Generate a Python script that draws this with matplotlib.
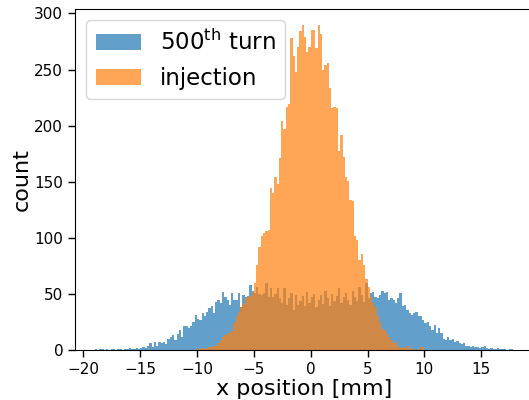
import numpy as np
import matplotlib
matplotlib.use("Agg")
import matplotlib.pyplot as plt

# ---- data (bin counts) ----
bin_width = 0.2

# 500th turn: bins from -19.0 to 18.0 mm
blue_start = -19.0
blue_counts = [
    1, 0, 1, 1, 0, 1, 0, 1, 1, 0,
    1, 1, 0, 1, 1, 2, 1, 1, 2, 1,
    2, 3, 2, 4, 6, 3, 7, 4, 7, 6,
    7, 5, 10, 12, 13, 9, 14, 18, 12, 21,
    21, 20, 21, 25, 31, 28, 27, 33, 30, 34,
    37, 39, 33, 43, 45, 42, 52, 47, 45, 40,
    51, 45, 45, 51, 38, 49, 47, 48, 58, 53,
    51, 56, 50, 49, 51, 60, 47, 55, 47, 50,
    55, 46, 42, 55, 40, 46, 51, 36, 49, 40,
    44, 48, 39, 52, 42, 47, 50, 38, 45, 49,
    41, 53, 46, 39, 50, 44, 48, 55, 42, 47,
    51, 45, 40, 53, 47, 44, 56, 49, 43, 60,
    46, 51, 52, 47, 46, 49, 53, 51, 52, 45,
    46, 45, 42, 46, 51, 39, 40, 36, 33, 31,
    33, 34, 30, 30, 27, 24, 25, 21, 18, 22,
    15, 20, 15, 10, 9, 12, 9, 10, 7, 8,
    6, 5, 6, 4, 4, 3, 4, 3, 3, 2,
    3, 4, 2, 1, 2, 1, 1, 2, 1, 1,
    1, 0, 1, 1, 0,
]

# injection: bins from -10.0 to 10.0 mm
orange_start = -10.0
orange_counts = [
    2, 1, 2, 1, 2, 3, 3, 4, 4, 6,
    9, 12, 13, 15, 15, 17, 24, 30, 34, 38,
    41, 46, 47, 48, 52, 60, 76, 92, 102, 104,
    106, 107, 144, 140, 154, 148, 171, 204, 197, 217,
    219, 278, 262, 248, 270, 284, 290, 279, 266, 270,
    285, 285, 269, 290, 282, 250, 254, 256, 234, 216,
    217, 216, 177, 192, 172, 154, 151, 134, 133, 102,
    98, 80, 86, 76, 63, 56, 47, 42, 38, 30,
    25, 19, 18, 14, 12, 9, 6, 7, 4, 2,
    3, 2, 4, 1, 2, 1, 0, 1, 3, 3,
]

labels = ["500$^{\\rm th}$ turn", "injection"]

# ---- figure ----
fig = plt.figure(figsize=(5.29, 4.0), dpi=100)
ax = fig.add_axes([75 / 529, 50 / 400, 458.6 / 529, 341 / 400])

def edges_for(start, counts):
    return start + bin_width * np.arange(len(counts) + 1)

be = edges_for(blue_start, blue_counts)
oe = edges_for(orange_start, orange_counts)
bc = 0.5 * (be[:-1] + be[1:])
oc = 0.5 * (oe[:-1] + oe[1:])

ax.hist(bc, bins=be, weights=blue_counts, color="C0", alpha=0.7, label=labels[0])
ax.hist(oc, bins=oe, weights=orange_counts, color="C1", alpha=0.7, label=labels[1])

ax.set_xlim(-20.73, 19.6)
ax.set_ylim(0, 304)
ax.set_xticks([-20, -15, -10, -5, 0, 5, 10, 15])
ax.set_yticks([0, 50, 100, 150, 200, 250, 300])
ax.tick_params(labelsize=11, length=5, width=1)
ax.set_xlabel("x position [mm]", fontsize=16, labelpad=1.5)
ax.set_ylabel("count", fontsize=16, labelpad=2)
ax.legend(loc="upper left", fontsize=16.5)

fig.savefig("out.png", dpi=100)
